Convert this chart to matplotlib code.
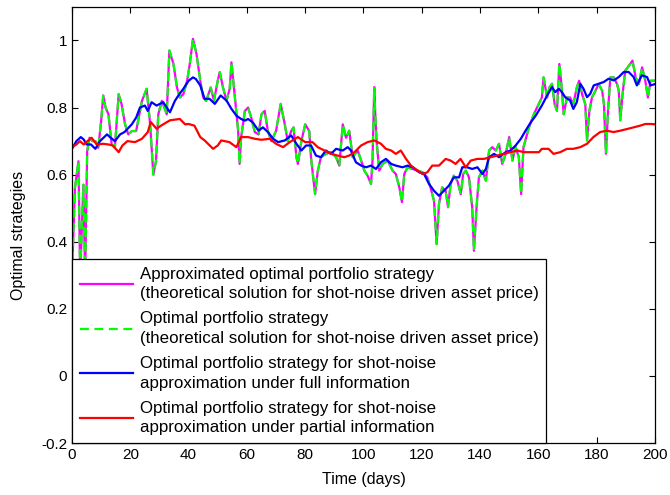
import matplotlib
matplotlib.use("Agg")
import matplotlib.pyplot as plt

plt.rcParams['font.family'] = ['Liberation Sans', 'DejaVu Sans']

# Approximated / optimal strategy (shot-noise driven asset price) - the two curves coincide
days_g = [0, 1, 1.6, 2.2, 2.8, 3.9, 4.5, 5.2, 6, 7, 8, 9, 10, 10.7, 11.5, 12.5, 13.6, 14.7, 16, 17,
          18.2, 19.3, 20.5, 22, 24, 25.6, 26.8, 27.9, 28.8, 29.6, 30.8, 32.5, 33.4, 34.8, 36, 37, 38.2,
          39.5, 40.4, 41.5, 42.7, 44, 45, 46, 47.6, 48.7, 50, 50.7, 51.8, 53, 54.1, 54.7, 56, 57, 57.5,
          58, 59.3, 60.4, 61.5, 62.7, 64, 65, 66.1, 67.2, 68.4, 70, 71.6, 73, 74, 75.2, 76, 77, 77.5,
          78.7, 80, 81.4, 82, 83.4, 84.3, 85.4, 87.1, 88.9, 90.6, 91.7, 92.9, 94, 95.1, 96.3, 98, 99.2,
          100.3, 101.4, 102.6, 103.1, 103.7, 104, 104.5, 105.4, 106.6, 108.3, 110, 111.1, 112.3, 113.2,
          114, 115.1, 116.9, 118.6, 120.3, 121.9, 123, 124.2, 125.1, 125.9, 127, 128.2, 129, 129.9, 131,
          132.2, 133.4, 134.2, 135.1, 136.2, 137.3, 137.9, 138.8, 139.6, 140.8, 142, 143.1, 144.2, 145.4,
          146.5, 147.6, 148.8, 150, 151.1, 152.2, 153.3, 154.1, 154.9, 156.8, 158.5, 159.6, 161.2, 161.8,
          163, 163.8, 164.7, 165.6, 166.4, 167.2, 167.9, 168.7, 169.8, 170.9, 172, 173.2, 174, 175, 176.1,
          176.7, 177.5, 178.4, 179.6, 180.7, 181.9, 182.5, 183.2, 183.9, 184.7, 185.9, 187, 187.6, 188.1,
          188.9, 189.8, 190.7, 191.5, 192.3, 193.4, 194.5, 195.6, 196.7, 197.6, 198.5, 200]
vals_g = [0.30, 0.56, 0.60, 0.64, 0.30, 0.57, 0.30, 0.67, 0.71, 0.70, 0.70, 0.68, 0.76, 0.836, 0.80, 0.78,
          0.69, 0.68, 0.84, 0.81, 0.75, 0.72, 0.73, 0.73, 0.82, 0.856, 0.75, 0.60, 0.64, 0.78, 0.82, 0.78,
          0.97, 0.93, 0.86, 0.83, 0.84, 0.88, 0.93, 1.005, 0.96, 0.88, 0.83, 0.82, 0.86, 0.82, 0.88, 0.906,
          0.86, 0.82, 0.856, 0.935, 0.82, 0.731, 0.632, 0.71, 0.79, 0.80, 0.77, 0.727, 0.72, 0.78, 0.79,
          0.73, 0.70, 0.73, 0.811, 0.75, 0.70, 0.73, 0.741, 0.652, 0.632, 0.70, 0.75, 0.73, 0.65, 0.542,
          0.61, 0.652, 0.662, 0.667, 0.652, 0.627, 0.75, 0.71, 0.731, 0.652, 0.672, 0.642, 0.612, 0.597,
          0.572, 0.642, 0.861, 0.79, 0.70, 0.612, 0.632, 0.642, 0.612, 0.602, 0.562, 0.518, 0.602, 0.622,
          0.617, 0.612, 0.607, 0.592, 0.562, 0.522, 0.393, 0.512, 0.562, 0.552, 0.503, 0.572, 0.597, 0.582,
          0.542, 0.602, 0.612, 0.592, 0.503, 0.373, 0.503, 0.592, 0.612, 0.582, 0.672, 0.682, 0.672, 0.692,
          0.632, 0.662, 0.712, 0.642, 0.682, 0.652, 0.542, 0.682, 0.741, 0.781, 0.801, 0.83, 0.89, 0.83,
          0.86, 0.871, 0.81, 0.79, 0.93, 0.87, 0.78, 0.83, 0.83, 0.81, 0.86, 0.88, 0.84, 0.81, 0.702, 0.79,
          0.83, 0.85, 0.87, 0.85, 0.81, 0.662, 0.79, 0.89, 0.89, 0.87, 0.85, 0.762, 0.84, 0.91, 0.92, 0.93,
          0.94, 0.89, 0.87, 0.92, 0.88, 0.83, 0.88, 0.88]

# Full-information shot-noise approximation
days_b = [0, 1.5, 3, 4, 5, 6.5, 8, 9.6, 12, 13.3, 14.7, 16.5, 18, 20.5, 22, 23.3, 25, 26, 27.3, 29, 31.3,
          32.5, 33.6, 35.3, 36.5, 38.2, 40, 41.5, 42.5, 44, 45.5, 47.2, 49, 51, 53, 54.7, 56.4, 58, 59.3,
          60.4, 62, 64, 65.5, 67.2, 69, 70.7, 73, 75.2, 77, 78.7, 80.3, 82, 83.7, 85.4, 87.1, 88.9, 90.6,
          92.9, 94.6, 95.7, 97.4, 99.2, 100.9, 102.6, 104.3, 106, 107.7, 109.5, 111.1, 113.4, 115.1, 116.9,
          119.1, 120.8, 122.5, 124.2, 125.9, 127.6, 129.3, 131, 132.8, 133.9, 135.6, 137.3, 139.1, 140.8,
          142, 143.1, 144.8, 146.5, 148.8, 150.5, 152.2, 154, 155.6, 157.4, 159.1, 161.2, 163, 164.7, 165.8,
          167, 168.1, 169.2, 170.9, 172, 173.2, 174.4, 175.5, 176.7, 177.8, 179, 180.7, 182.4, 184.1, 185.9,
          187.6, 189.3, 191, 192.7, 193.8, 195.5, 197.3, 198.5, 200]
vals_b = [0.677, 0.70, 0.712, 0.705, 0.69, 0.69, 0.677, 0.70, 0.72, 0.71, 0.70, 0.72, 0.727, 0.75, 0.77,
          0.80, 0.806, 0.79, 0.816, 0.806, 0.816, 0.80, 0.786, 0.82, 0.836, 0.856, 0.88, 0.89, 0.885, 0.866,
          0.826, 0.826, 0.811, 0.836, 0.821, 0.796, 0.776, 0.766, 0.761, 0.766, 0.756, 0.731, 0.741, 0.727,
          0.707, 0.697, 0.702, 0.717, 0.692, 0.672, 0.687, 0.687, 0.657, 0.652, 0.672, 0.662, 0.677, 0.672,
          0.682, 0.672, 0.637, 0.627, 0.622, 0.627, 0.617, 0.637, 0.647, 0.632, 0.627, 0.622, 0.627, 0.622,
          0.607, 0.602, 0.572, 0.552, 0.537, 0.552, 0.567, 0.592, 0.592, 0.622, 0.622, 0.617, 0.622, 0.602,
          0.617, 0.652, 0.662, 0.652, 0.667, 0.672, 0.687, 0.707, 0.731, 0.756, 0.776, 0.806, 0.836, 0.861,
          0.846, 0.856, 0.846, 0.831, 0.821, 0.796, 0.816, 0.871, 0.856, 0.831, 0.841, 0.866, 0.871, 0.876,
          0.886, 0.881, 0.891, 0.906, 0.906, 0.891, 0.866, 0.896, 0.891, 0.866, 0.87]

# Partial-information shot-noise approximation
days_r = [0, 1.5, 2.7, 4, 5.3, 6.7, 8.5, 10.7, 12.5, 14, 16, 17.3, 19, 21.6, 24, 26, 27, 29, 30.7, 33.6, 37,
          38.8, 40, 42, 44, 45.5, 48.4, 50, 51.2, 54, 56.4, 58, 60.4, 62.7, 65, 67.8, 70, 72.4, 74.7, 77.5,
          80, 82.5, 84.3, 86.6, 88.9, 91.1, 93.4, 95.1, 96.9, 99.2, 101.4, 103.7, 106, 107.7, 109.5, 111.1,
          112.8, 114.6, 116.3, 118.6, 120.3, 121.9, 123.6, 125.9, 128.2, 129.9, 131.6, 133.3, 135.1, 136.8,
          139.1, 141.3, 143.6, 145.9, 148.2, 150.4, 152.8, 155, 157.4, 160.2, 161.2, 163.5, 165.2, 167.5,
          169.8, 172, 174.4, 176.7, 178.9, 181.2, 183.5, 185.8, 188.1, 190.4, 192.7, 194.9, 196.7, 198.9, 200]
vals_r = [0.682, 0.69, 0.70, 0.69, 0.70, 0.71, 0.69, 0.692, 0.69, 0.687, 0.667, 0.687, 0.70, 0.697, 0.707,
          0.727, 0.757, 0.737, 0.747, 0.762, 0.766, 0.75, 0.751, 0.746, 0.712, 0.702, 0.677, 0.687, 0.702,
          0.697, 0.682, 0.712, 0.712, 0.707, 0.704, 0.707, 0.692, 0.682, 0.697, 0.712, 0.697, 0.697, 0.682,
          0.672, 0.662, 0.657, 0.652, 0.657, 0.667, 0.687, 0.697, 0.702, 0.692, 0.677, 0.672, 0.662, 0.672,
          0.647, 0.627, 0.612, 0.602, 0.607, 0.627, 0.627, 0.647, 0.642, 0.632, 0.647, 0.622, 0.642, 0.647,
          0.647, 0.652, 0.657, 0.662, 0.667, 0.672, 0.667, 0.667, 0.667, 0.677, 0.677, 0.662, 0.667, 0.677,
          0.677, 0.682, 0.692, 0.712, 0.727, 0.731, 0.727, 0.731, 0.736, 0.741, 0.746, 0.751, 0.751, 0.75]

labels = [
    "Approximated optimal portfolio strategy\n(theoretical solution for shot-noise driven asset price)",
    "Optimal portfolio strategy\n(theoretical solution for shot-noise driven asset price)",
    "Optimal portfolio strategy for shot-noise\napproximation under full information",
    "Optimal portfolio strategy for shot-noise\napproximation under partial information",
]
xticks = [0, 20, 40, 60, 80, 100, 120, 140, 160, 180, 200]
yticks = [-0.2, 0, 0.2, 0.4, 0.6, 0.8, 1.0]
ytick_labels = ["-0.2", "0", "0.2", "0.4", "0.6", "0.8", "1"]

fig = plt.figure(figsize=(6.7, 4.95), dpi=100)
ax = fig.add_axes([0.1075, 0.105, 0.870, 0.881])

ax.plot(days_g, vals_g, color=(1, 0, 1), lw=1.6, label=labels[0])
ax.plot(days_g, vals_g, color=(0, 1, 0), lw=1.6, linestyle=(0, (4, 2.5)), label=labels[1])
ax.plot(days_b, vals_b, color=(0, 0, 1), lw=1.6, label=labels[2])
ax.plot(days_r, vals_r, color=(1, 0, 0), lw=1.6, label=labels[3])

ax.set_xlim(0, 200)
ax.set_ylim(-0.2, 1.1)
ax.set_xticks(xticks)
ax.set_yticks(yticks)
ax.set_yticklabels(ytick_labels)
ax.tick_params(direction='in', top=True, right=True, labelsize=11, length=4, width=0.8)
for s in ax.spines.values():
    s.set_linewidth(0.9)
ax.set_xlabel("Time (days)", fontsize=11.5, labelpad=7)
ax.set_ylabel("Optimal strategies", fontsize=11.5)
ax.yaxis.set_label_coords(-0.079, 0.475)

leg = ax.legend(loc='lower left', bbox_to_anchor=(0, 0), borderaxespad=0, fontsize=12.2,
                fancybox=False, framealpha=1, edgecolor='black', handlelength=3.15,
                labelspacing=0.62, handletextpad=0.4, borderpad=0.45)
leg.get_frame().set_linewidth(0.9)
for t in leg.get_texts():
    t.set_linespacing(1.36)

fig.savefig("out.png", dpi=100)
